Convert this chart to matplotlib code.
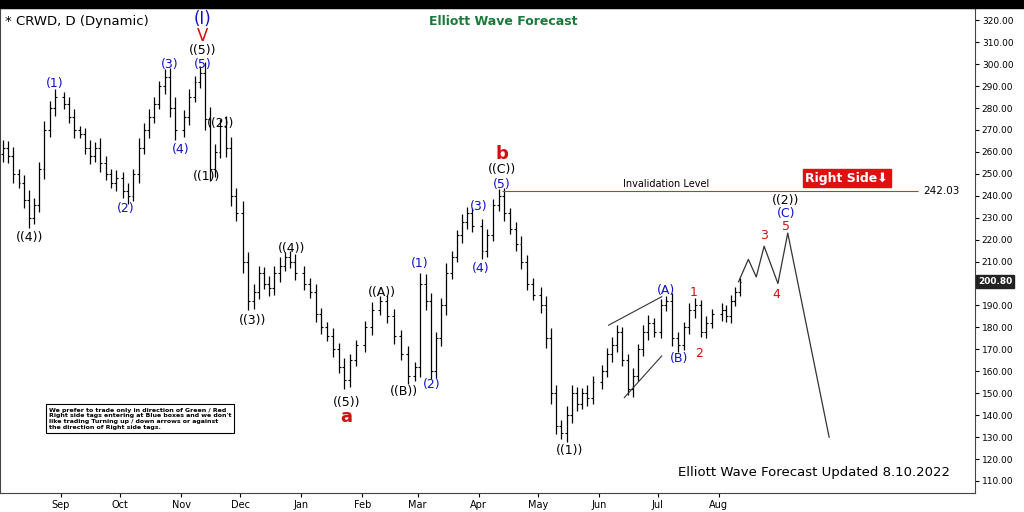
import matplotlib
matplotlib.use("Agg")
import matplotlib.pyplot as plt
import matplotlib.dates as mdates
import numpy as np
import pandas as pd

month_starts = ["2021-08-01", "2021-09-01", "2021-10-01", "2021-11-01", "2021-12-01", "2022-01-01",
                "2022-02-01", "2022-03-01", "2022-04-01", "2022-05-01", "2022-06-01", "2022-07-01",
                "2022-08-01"]
month_closes = [
    [262, 258, 250, 246, 238, 230, 236, 252, 270, 280, 285],
    [282, 276, 270, 268, 262, 258, 262, 255, 250, 246, 248],
    [242, 240, 250, 262, 270, 276, 282, 290, 294, 280, 270],
    [276, 285, 292, 296, 275, 252, 260, 272, 262, 240, 232],
    [210, 192, 196, 205, 200, 198, 205, 208, 212, 210, 205],
    [200, 196, 186, 180, 176, 170, 162, 156, 165, 172],
    [180, 188, 192, 185, 176, 168, 158, 162],
    [200, 192, 160, 175, 190, 205, 212, 222, 228, 232, 226],
    [215, 222, 236, 240, 232, 225, 218, 210, 200, 195],
    [190, 175, 150, 135, 132, 140, 150, 145, 150, 148, 155],
    [160, 168, 172, 178, 165, 152, 158, 170, 178, 182, 178],
    [190, 192, 175, 172, 180, 188, 190, 178, 182, 186],
    [188, 185, 192, 196, 200.8],
]
wicks = [6, 5, 7, 4, 6, 8, 5, 6, 7, 5, 6, 4, 5, 6, 3, 5, 6, 4, 7, 5, 4, 6,
         5, 6, 4, 7, 5, 6, 5, 4, 6, 7, 8, 5, 6, 4, 5, 8, 9, 6, 5, 7, 8, 6,
         9, 7, 6, 5, 4, 6, 5, 7, 4, 5, 6, 5, 4, 6, 5, 4, 6, 5, 7, 5, 4,
         5, 6, 4, 5, 6, 5, 6, 4, 8, 7, 6, 5, 6, 7, 5, 4, 6, 5, 4,
         6, 5, 4, 5, 6, 4, 5, 6, 5, 4, 6, 7, 8, 6, 5, 7, 6, 5, 4, 6, 5,
         5, 4, 6, 5, 4, 5, 6, 4, 5, 6, 4, 5, 4, 6, 5, 4, 5, 6, 4, 5, 4,
         5, 4, 5, 4, 3]
proj_dates = ["2022-08-11", "2022-08-16", "2022-08-20", "2022-08-24", "2022-08-31", "2022-09-05", "2022-09-26"]
proj_vals = [200.8, 211, 203, 217, 200, 223, 130]

closes, x = [], []
for i, (ms, vals) in enumerate(zip(month_starts, month_closes)):
    start = mdates.datestr2num(ms) + 1.5
    end = start + (29 if i < len(month_starts) - 1 else 9)
    step = (end - start) / max(len(vals) - 1, 1) if i == len(month_starts) - 1 else (end - start) / len(vals)
    for j, v in enumerate(vals):
        closes.append(v)
        x.append(start + j * step)

fig = plt.figure(figsize=(10.24, 5.12), dpi=100)
ax = fig.add_axes([0, 0.037, 0.952, 0.947])
ax.set_xlim(mdates.datestr2num("2021-08-01"), mdates.datestr2num("2022-12-09"))
ax.set_ylim(104.5, 325.5)

opens = [closes[0] - 3] + closes[:-1]
for i in range(len(closes)):
    o, c, w = opens[i], closes[i], wicks[i % len(wicks)]
    hi, lo = max(o, c) + w * 0.6, min(o, c) - w * 0.6
    ax.vlines(x[i], lo, hi, color="black", lw=0.9)
    ax.hlines(o, x[i] - 1.0, x[i], color="black", lw=0.8)
    ax.hlines(c, x[i], x[i] + 1.0, color="black", lw=0.8)

px = mdates.datestr2num(proj_dates)
ax.plot(px, proj_vals, color="#333", lw=0.9)

ax.plot(mdates.datestr2num(["2022-06-06", "2022-07-03"]), [181, 194], color="#333", lw=0.8)
ax.plot(mdates.datestr2num(["2022-06-14", "2022-07-03"]), [148, 167], color="#333", lw=0.8)

ax.hlines(242.03, mdates.datestr2num("2022-04-13"), mdates.datestr2num("2022-11-10"), color="#d03030", lw=0.8)
ax.text(mdates.datestr2num("2022-07-05"), 243, "Invalidation Level", fontsize=7, ha="center", va="bottom")
ax.text(mdates.datestr2num("2022-11-13"), 242.03, "242.03", fontsize=7.5, va="center")
ax.text(mdates.datestr2num("2022-10-05"), 248, "Right Side\u2b07", fontsize=9, color="white", weight="bold",
        ha="center", va="center", bbox=dict(boxstyle="square,pad=0.2", fc="#e01010", ec="#e01010"))

B, K, R = "#1010c8", "black", "#d01010"
labels = [
    ("2021-08-16", 221, "((4))", K), ("2021-08-29", 291, "(1)", B), ("2021-10-04", 234, "(2)", B),
    ("2021-10-26", 300, "(3)", B), ("2021-11-01", 261, "(4)", B), ("2021-11-12", 300, "(5)", B),
    ("2021-11-12", 306, "((5))", K), ("2021-11-21", 273, "((2))", K), ("2021-11-14", 249, "((1))", K),
    ("2021-12-07", 183, "((3))", K), ("2021-12-27", 216, "((4))", K), ("2022-01-24", 146, "((5))", K),
    ("2022-02-11", 196, "((A))", K), ("2022-02-22", 151, "((B))", K), ("2022-03-02", 209, "(1)", B),
    ("2022-03-08", 154, "(2)", B), ("2022-04-01", 235, "(3)", B), ("2022-04-02", 207, "(4)", B),
    ("2022-04-13", 245, "(5)", B), ("2022-04-13", 252, "((C))", K), ("2022-05-17", 124, "((1))", K),
    ("2022-07-05", 197, "(A)", B), ("2022-07-12", 166, "(B)", B), ("2022-07-19", 196, "1", R),
    ("2022-07-22", 168, "2", R), ("2022-08-24", 222, "3", R), ("2022-08-30", 195, "4", R),
    ("2022-09-04", 226, "5", R), ("2022-09-04", 232, "(C)", B), ("2022-09-04", 238, "((2))", K),
]
for d, y, t, c in labels:
    ax.text(mdates.datestr2num(d), y, t, color=c, fontsize=9, ha="center", va="center")
ax.text(mdates.datestr2num("2022-01-24"), 139, "a", color=R, fontsize=13, weight="bold", ha="center", va="center")
ax.text(mdates.datestr2num("2022-04-13"), 259, "b", color=R, fontsize=13, weight="bold", ha="center", va="center")
ax.text(mdates.datestr2num("2021-11-12"), 312.8, "V", color=R, fontsize=12, ha="center", va="center")
ax.text(mdates.datestr2num("2021-11-12"), 320.5, "(I)", color=B, fontsize=12, ha="center", va="center")

ax.text(0.005, 0.985, "* CRWD, D (Dynamic)", transform=ax.transAxes, fontsize=9.5, va="top")
ax.text(0.44, 0.985, "Elliott Wave Forecast", transform=ax.transAxes, fontsize=9, weight="bold",
        color="#1a7a3a", va="top")
ax.text(0.975, 0.03, "Elliott Wave Forecast Updated 8.10.2022", transform=ax.transAxes, fontsize=9.5,
        ha="right", va="bottom")
ax.text(0.05, 0.13, "We prefer to trade only in direction of Green / Red\nRight side tags entering at Blue boxes and we don't\n"
        "like trading Turning up / down arrows or against\nthe direction of Right side tags.",
        transform=ax.transAxes, fontsize=4.5, weight="bold", va="bottom",
        bbox=dict(boxstyle="square,pad=0.5", fc="white", ec="black", lw=0.8))

ax.yaxis.tick_right()
yt = np.arange(110, 321, 10)
ax.set_yticks(yt)
ax.set_yticklabels(["" if v == 200 else f"{v:.2f}" for v in yt], fontsize=6.5)
ax.tick_params(axis="y", length=3, pad=2)
ax.text(1.003, (200.8 - 104.5) / 221, "200.80", transform=ax.transAxes, fontsize=6.5, color="white",
        weight="bold", va="center", bbox=dict(boxstyle="square,pad=0.2", fc="#222", ec="#222"))
months = month_starts[1:]
ax.set_xticks(mdates.datestr2num(months))
ax.set_xticklabels(["Sep", "Oct", "Nov", "Dec", "Jan", "Feb", "Mar", "Apr", "May", "Jun", "Jul", "Aug"], fontsize=7)
ax.tick_params(axis="x", length=3, pad=2)
for s in ax.spines.values():
    s.set_color("#444")
fig.patches.append(plt.Rectangle((0, 0.985), 1, 0.015, transform=fig.transFigure, color="black"))
fig.savefig("out.png", dpi=100)
